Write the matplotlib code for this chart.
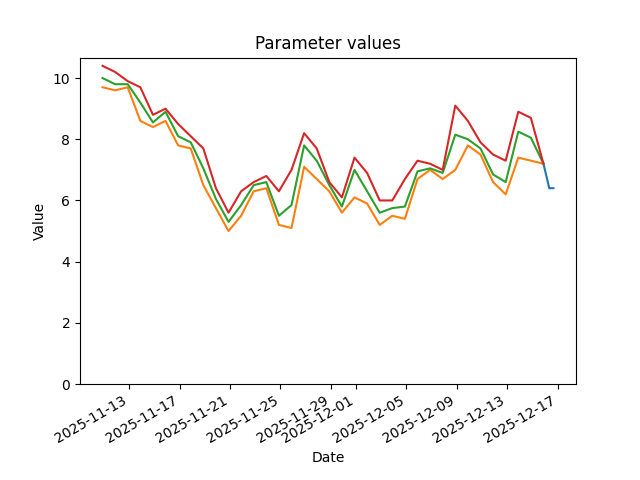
import pandas as pd
import matplotlib
matplotlib.use("Agg")
import matplotlib.pyplot as plt

# daily readings
dates = pd.date_range("2025-11-10 21:00", periods=36, freq="D")
orange_vals = [9.7, 9.6, 9.7, 8.6, 8.4, 8.6, 7.8, 7.7, 6.5, 5.75, 5.0, 5.5, 6.3, 6.4,
               5.2, 5.1, 7.1, 6.7, 6.3, 5.6, 6.1, 5.9, 5.2, 5.5, 5.4, 6.7, 7.0, 6.7,
               7.0, 7.8, 7.5, 6.6, 6.2, 7.4, 7.3, 7.2]
green_vals = [10.0, 9.8, 9.8, 9.2, 8.55, 8.9, 8.1, 7.9, 7.05, 6.05, 5.3, 5.85, 6.5, 6.6,
              5.5, 5.85, 7.8, 7.3, 6.5, 5.8, 7.0, 6.3, 5.6, 5.75, 5.8, 6.95, 7.05, 6.9,
              8.15, 8.0, 7.7, 6.85, 6.6, 8.25, 8.05, 7.2]
red_vals = [10.4, 10.2, 9.9, 9.7, 8.8, 9.0, 8.5, 8.1, 7.7, 6.4, 5.6, 6.3, 6.6, 6.8,
            6.3, 7.0, 8.2, 7.7, 6.6, 6.1, 7.4, 6.9, 6.0, 6.0, 6.7, 7.3, 7.2, 7.0,
            9.1, 8.6, 7.9, 7.5, 7.3, 8.9, 8.7, 7.2]

# latest readings
blue_dates = pd.to_datetime(["2025-12-15 21:00", "2025-12-16 08:00", "2025-12-16 16:00"])
blue_vals = [7.2, 6.4, 6.4]

fig, ax = plt.subplots(figsize=(6.4, 4.8), dpi=100)
ax.plot(blue_dates, blue_vals, color="C0")
ax.plot(dates, orange_vals, color="C1")
ax.plot(dates, green_vals, color="C2")
ax.plot(dates, red_vals, color="C3")
ax.set_ylim(bottom=0)
ax.set_title("Parameter values")
ax.set_xlabel("Date")
ax.set_ylabel("Value")
fig.autofmt_xdate()
fig.savefig("out.png")
